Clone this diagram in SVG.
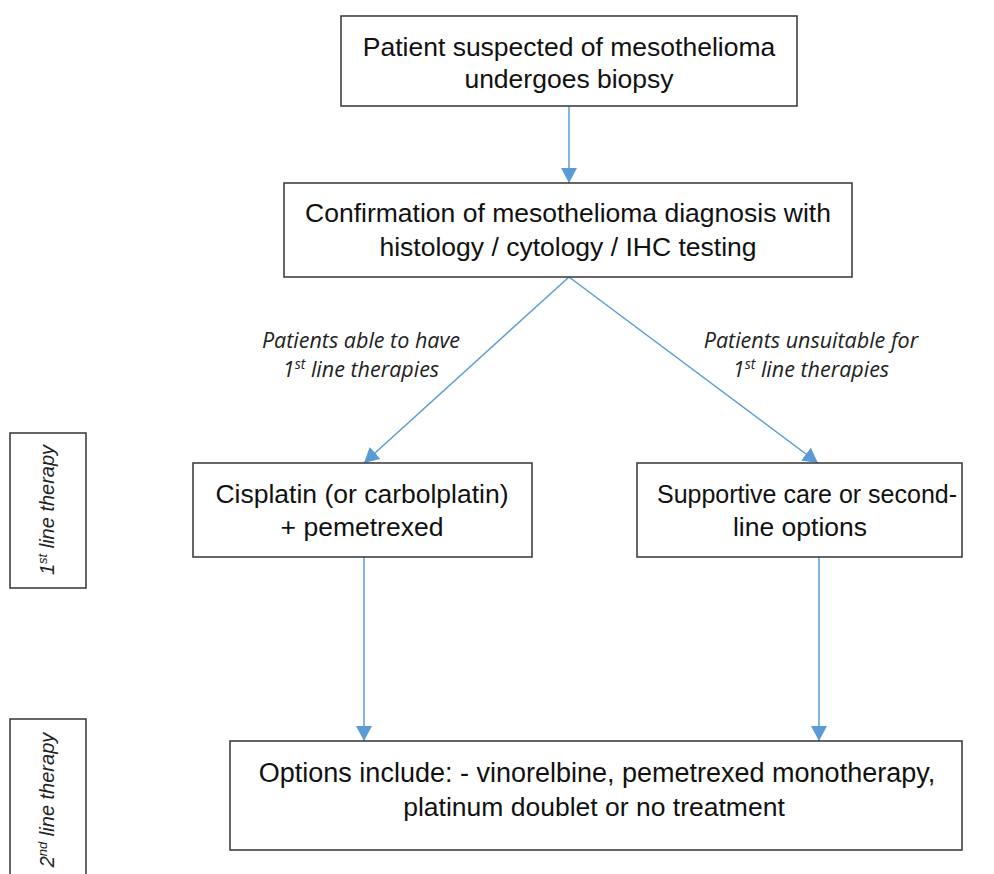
<svg xmlns="http://www.w3.org/2000/svg" width="994" height="874" viewBox="0 0 994 874">
<style>
.box{fill:#fff;stroke:#404040;stroke-width:1.6}
.t{font-family:"Liberation Sans",Arial,sans-serif;font-size:26.5px;fill:#111;text-anchor:middle}
.lbl{font-family:"Open Sans","Liberation Sans",sans-serif;font-style:italic;font-size:21.5px;fill:#222;text-anchor:middle}
.side{font-family:"Liberation Sans",Arial,sans-serif;font-style:italic;font-size:20px;fill:#222;text-anchor:middle}
.c{fill:none;stroke:#5B9BD5;stroke-width:1.5}
</style>
<defs>
<marker id="ah" markerUnits="userSpaceOnUse" markerWidth="16" markerHeight="16" viewBox="0 0 16 16" refX="15" refY="8" orient="auto">
<path d="M0,0 L15,8 L0,16 Z" fill="#5B9BD5"/>
</marker>
</defs>
<rect width="994" height="874" fill="#fff"/>
<g id="connectors">
<line class="c" x1="569" y1="106" x2="569" y2="183" marker-end="url(#ah)"/>
<line class="c" x1="569" y1="277" x2="364" y2="463" marker-end="url(#ah)"/>
<line class="c" x1="569" y1="277" x2="818" y2="463" marker-end="url(#ah)"/>
<line class="c" x1="364" y1="557" x2="364" y2="741" marker-end="url(#ah)"/>
<line class="c" x1="819" y1="557" x2="819" y2="741" marker-end="url(#ah)"/>
</g>
<g id="n1">
<rect class="box" x="341" y="16" width="456" height="90"/>
<text class="t" x="569" y="56">Patient suspected of mesothelioma</text>
<text class="t" x="569" y="88">undergoes biopsy</text>
</g>
<g id="n2">
<rect class="box" x="284" y="183" width="568" height="94"/>
<text class="t" x="568" y="222">Confirmation of mesothelioma diagnosis with</text>
<text class="t" x="568" y="256">histology / cytology / IHC testing</text>
</g>
<g id="lbl-left">
<text class="lbl" x="361" y="348">Patients able to have</text>
<text class="lbl" x="361" y="377">1<tspan font-size="14" dy="-8">st</tspan><tspan dy="8"> line therapies</tspan></text>
</g>
<g id="lbl-right">
<text class="lbl" x="811" y="348">Patients unsuitable for</text>
<text class="lbl" x="811" y="377">1<tspan font-size="14" dy="-8">st</tspan><tspan dy="8"> line therapies</tspan></text>
</g>
<g id="n3">
<rect class="box" x="193" y="463" width="339" height="94"/>
<text class="t" x="362" y="503">Cisplatin (or carbolplatin)</text>
<text class="t" x="362" y="536">+ pemetrexed</text>
</g>
<g id="n4">
<rect class="box" x="637" y="463" width="325" height="94"/>
<text class="t" x="807" y="503" textLength="300" lengthAdjust="spacingAndGlyphs">Supportive care or second-</text>
<text class="t" x="800" y="536">line options</text>
</g>
<g id="n5">
<rect class="box" x="230" y="741" width="732" height="109"/>
<text class="t" x="597" y="782" style="font-size:27px">Options include: - vinorelbine, pemetrexed monotherapy,</text>
<text class="t" x="594" y="816">platinum doublet or no treatment</text>
</g>
<g id="side1">
<rect class="box" x="10" y="433" width="76" height="155"/>
<text class="side" transform="translate(54,510) rotate(-90)">1<tspan font-size="13" dy="-7">st</tspan><tspan dy="7"> line therapy</tspan></text>
</g>
<g id="side2">
<rect class="box" x="10" y="719" width="76" height="170"/>
<text class="side" transform="translate(54,800) rotate(-90)">2<tspan font-size="13" dy="-7">nd</tspan><tspan dy="7"> line therapy</tspan></text>
</g>
</svg>
